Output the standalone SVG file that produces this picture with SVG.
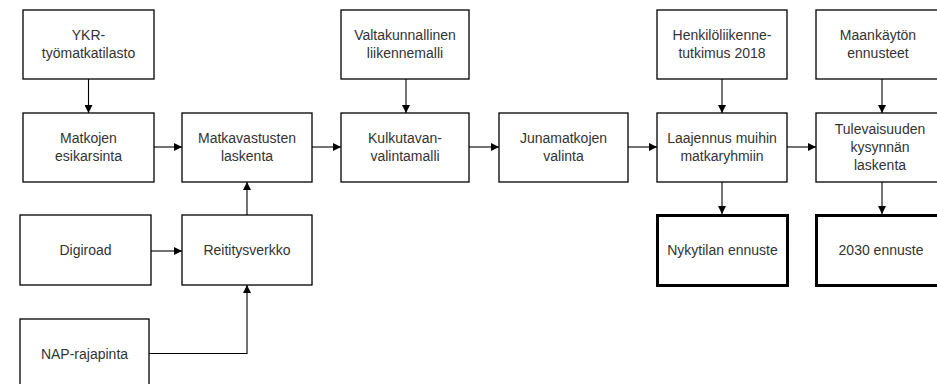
<svg xmlns="http://www.w3.org/2000/svg" width="937" height="384" viewBox="0 0 937 384">
<style>
.box{fill:#fff;stroke:#000;stroke-width:1.3}
.thick{fill:#fff;stroke:#000;stroke-width:3}
text{font-family:"Liberation Sans",Arial,sans-serif;font-size:14px;fill:#333;text-anchor:middle}
.c{fill:none;stroke:#000;stroke-width:1.1}
</style>
<defs>
<marker id="ah" markerUnits="userSpaceOnUse" markerWidth="8" markerHeight="8" refX="8" refY="4" orient="auto">
<path d="M0,0 L8,4 L0,8 z" fill="#000"/>
</marker>
</defs>
<rect width="937" height="384" fill="#fff"/>
<g id="connectors">
<path class="c" d="M88.5,79 V113" marker-end="url(#ah)"/>
<path class="c" d="M154,147 H182" marker-end="url(#ah)"/>
<path class="c" d="M312,147 H341" marker-end="url(#ah)"/>
<path class="c" d="M406,79 V113" marker-end="url(#ah)"/>
<path class="c" d="M469,147 H499" marker-end="url(#ah)"/>
<path class="c" d="M628,147 H657" marker-end="url(#ah)"/>
<path class="c" d="M722,79 V113" marker-end="url(#ah)"/>
<path class="c" d="M787,147 H816" marker-end="url(#ah)"/>
<path class="c" d="M882,79 V113" marker-end="url(#ah)"/>
<path class="c" d="M722,182 V214" marker-end="url(#ah)"/>
<path class="c" d="M882,182 V214" marker-end="url(#ah)"/>
<path class="c" d="M151,251 H182" marker-end="url(#ah)"/>
<path class="c" d="M247,215 V182" marker-end="url(#ah)"/>
<path class="c" d="M149,353.5 H247 V285" marker-end="url(#ah)"/>
</g>
<g id="ykr"><rect class="box" x="23" y="10" width="131" height="69"/><text x="88.5" y="40">YKR-</text><text x="88.5" y="58">työmatkatilasto</text></g>
<g id="matkojen"><rect class="box" x="23" y="113" width="131" height="69"/><text x="88.5" y="142.5">Matkojen</text><text x="88.5" y="160.5">esikarsinta</text></g>
<g id="matkavastusten"><rect class="box" x="182" y="113" width="130" height="69"/><text x="247" y="142.5">Matkavastusten</text><text x="247" y="160.5">laskenta</text></g>
<g id="digiroad"><rect class="box" x="20" y="215" width="131" height="70"/><text x="85.5" y="255">Digiroad</text></g>
<g id="reititysverkko"><rect class="box" x="182" y="215" width="130" height="70"/><text x="247" y="255">Reititysverkko</text></g>
<g id="nap"><rect class="box" x="20" y="319" width="129" height="80"/><text x="84.5" y="359">NAP-rajapinta</text></g>
<g id="valtakunnallinen"><rect class="box" x="341" y="10" width="128" height="69"/><text x="405" y="40">Valtakunnallinen</text><text x="405" y="58">liikennemalli</text></g>
<g id="kulkutavan"><rect class="box" x="341" y="113" width="128" height="69"/><text x="405" y="142.5">Kulkutavan-</text><text x="405" y="160.5">valintamalli</text></g>
<g id="junamatkojen"><rect class="box" x="499" y="113" width="129" height="69"/><text x="563.5" y="142.5">Junamatkojen</text><text x="563.5" y="160.5">valinta</text></g>
<g id="henkilo"><rect class="box" x="657" y="10" width="130" height="69"/><text x="722" y="40">Henkilöliikenne-</text><text x="722" y="58">tutkimus 2018</text></g>
<g id="laajennus"><rect class="box" x="657" y="113" width="130" height="69"/><text x="722" y="142.5">Laajennus muihin</text><text x="722" y="160.5">matkaryhmiin</text></g>
<g id="nykytilan"><rect class="thick" x="657.5" y="215.5" width="130" height="70"/><text x="722.5" y="255">Nykytilan ennuste</text></g>
<g id="maankaytto"><rect class="box" x="816" y="10" width="130" height="69"/><text x="878" y="40">Maankäytön</text><text x="878" y="58">ennusteet</text></g>
<g id="tulevaisuuden"><rect class="box" x="816" y="113" width="130" height="69"/><text x="880" y="133.5">Tulevaisuuden</text><text x="880" y="151.5">kysynnän</text><text x="880" y="169.5">laskenta</text></g>
<g id="e2030"><rect class="thick" x="816.5" y="215.5" width="130" height="70"/><text x="881" y="255">2030 ennuste</text></g>
</svg>
